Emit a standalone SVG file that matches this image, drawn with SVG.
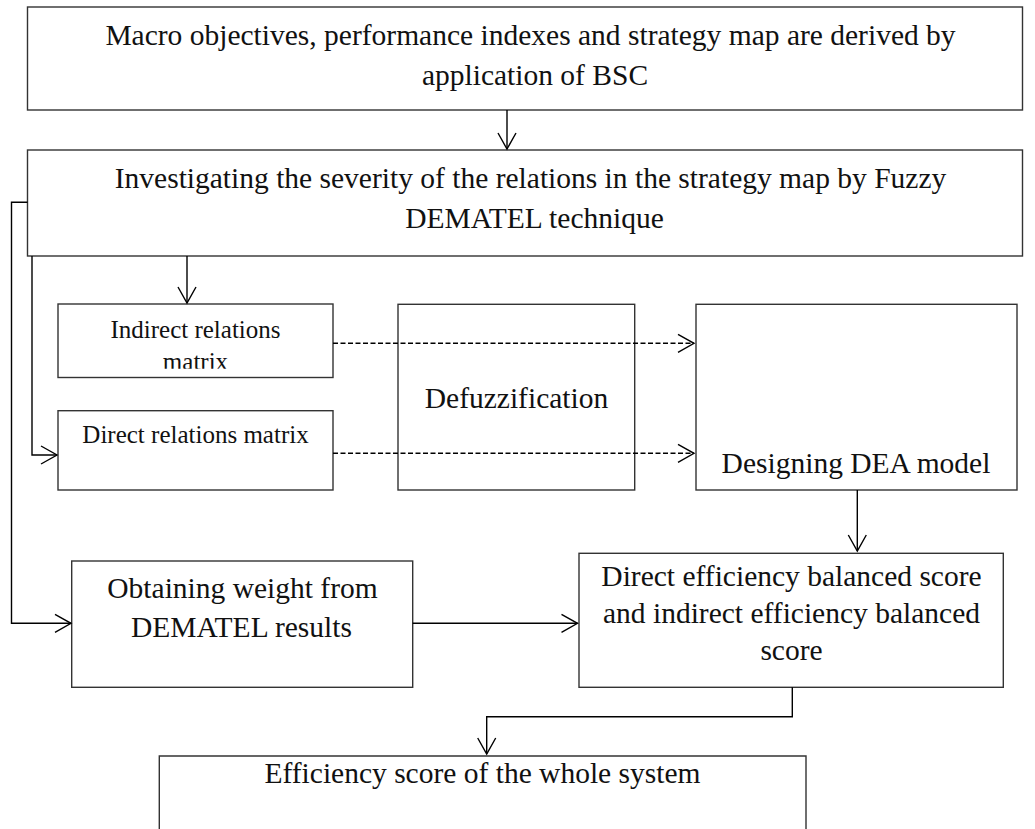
<svg xmlns="http://www.w3.org/2000/svg" width="1035" height="829" viewBox="0 0 1035 829">
<style>
.box{fill:#fff;stroke:#333;stroke-width:1.4}
.ln{fill:none;stroke:#000;stroke-width:1.4}
.dash{stroke-dasharray:5 2.5}
.t{font-family:"Liberation Serif","Times New Roman",serif;font-size:29.5px;fill:#111;text-anchor:middle}
.s{font-size:25px}
</style>
<defs>
<marker id="ah" markerUnits="userSpaceOnUse" markerWidth="20" markerHeight="22" viewBox="-18 -11 20 22" refX="0" refY="0" orient="auto">
<path d="M-16,-9 L0,0 L-16,9" fill="none" stroke="#000" stroke-width="1.4"/>
</marker>
<clipPath id="clipInd"><rect x="58" y="304" width="275" height="64.8"/></clipPath>
</defs>
<g id="n1">
<rect class="box" x="27.5" y="7" width="995" height="103"/>
<text class="t" x="530.5" y="45">Macro objectives, performance indexes and strategy map are derived by</text>
<text class="t" x="535" y="85">application of BSC</text>
</g>
<g id="n2">
<rect class="box" x="27.5" y="150" width="995" height="106"/>
<text class="t" x="530.5" y="188">Investigating the severity of the relations in the strategy map by Fuzzy</text>
<text class="t" x="534.5" y="228">DEMATEL technique</text>
</g>
<g id="n3">
<rect class="box" x="58" y="304" width="275" height="73.5"/>
<text class="t s" x="195.5" y="338">Indirect relations</text>
<text class="t s" x="195.5" y="370" clip-path="url(#clipInd)">matrix</text>
</g>
<g id="n4">
<rect class="box" x="58" y="410.7" width="275" height="79.3"/>
<text class="t s" x="195.5" y="443">Direct relations matrix</text>
</g>
<g id="n5">
<rect class="box" x="398" y="304.3" width="236.7" height="185.7"/>
<text class="t" x="516.5" y="408">Defuzzification</text>
</g>
<g id="n6">
<rect class="box" x="696" y="304.3" width="321" height="185.7"/>
<text class="t" x="856" y="472.5">Designing DEA model</text>
</g>
<g id="n7">
<rect class="box" x="71.7" y="561" width="341" height="126.3"/>
<text class="t" x="242.5" y="598">Obtaining weight from</text>
<text class="t" x="241.5" y="637">DEMATEL results</text>
</g>
<g id="n8">
<rect class="box" x="579" y="553.3" width="424.3" height="134"/>
<text class="t" x="791.5" y="586">Direct efficiency balanced score</text>
<text class="t" x="791.5" y="623">and indirect efficiency balanced</text>
<text class="t" x="791.5" y="660">score</text>
</g>
<g id="n9">
<path class="box" d="M159.3,832 V756 H806 V832"/>
<text class="t" x="482.5" y="782.5">Efficiency score of the whole system</text>
</g>
<g id="connectors">
<path class="ln" d="M507,110 V149" marker-end="url(#ah)"/>
<path class="ln" d="M27.5,202.3 H11.5 V623.3 H71" marker-end="url(#ah)"/>
<path class="ln" d="M32,256 V455 H57" marker-end="url(#ah)"/>
<path class="ln" d="M187,256 V303" marker-end="url(#ah)"/>
<path class="ln dash" d="M333,343.3 H694" marker-end="url(#ah)"/>
<path class="ln dash" d="M333,453.3 H694" marker-end="url(#ah)"/>
<path class="ln" d="M857.3,490 V551" marker-end="url(#ah)"/>
<path class="ln" d="M412.7,623.3 H577.5" marker-end="url(#ah)"/>
<path class="ln" d="M792.3,687.3 V716.7 H486.7 V754" marker-end="url(#ah)"/>
</g>
</svg>
